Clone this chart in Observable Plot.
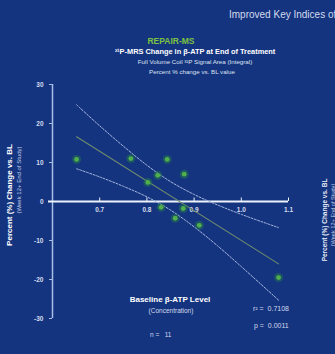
<!DOCTYPE html>
<html>
<head>
<meta charset="utf-8">
<script src="https://cdn.jsdelivr.net/npm/d3@7"></script>
<script src="https://cdn.jsdelivr.net/npm/@observablehq/plot@0.6"></script>
<style>
  html, body { margin: 0; padding: 0; background: #15347f; }
  #wrap { position: relative; width: 335px; height: 354px; overflow: hidden; background: #15347f;
          font-family: "Liberation Sans", Arial, sans-serif; }
  #wrap svg { position: absolute; left: 0; top: 0; }
  .t { position: absolute; white-space: nowrap; line-height: 1; }
  .c { transform: translateX(-50%); }
  .rot { transform: translate(-50%, -50%) rotate(-90deg); }
</style>
</head>
<body>
<div id="wrap"></div>
<script>
// ---- data ----
const baselineATP = [0.651, 0.766, 0.802, 0.823, 0.843, 0.879, 0.830, 0.860, 0.877, 0.911, 1.079];
const pctChange   = [10.8, 11.0, 4.9, 6.7, 10.8, 7.0, -1.5, -4.3, -1.8, -6.1, -19.5];
const bandX       = [0.651, 0.70, 0.75, 0.80, 0.85, 0.90, 0.95, 1.00, 1.079];
const bandUpper   = [24.8, 19.4, 14.2, 9.3, 5.1, 1.8, -0.9, -3.3, -6.7];
const bandLower   = [8.4, 6.3, 3.9, 1.2, -2.2, -6.5, -11.4, -16.7, -25.3];
const xTicks      = [0.7, 0.8, 0.9, 1.0, 1.1];
const xTickLabels = ["0.7", "0.8", "0.9", "1.0", "1.1"];
const yTicks      = [30, 20, 10, 0, -10, -20, -30];

const pts = baselineATP.map((x, i) => ({x, y: pctChange[i]}));
const up = bandX.map((x, i) => ({x, y: bandUpper[i]}));
const lo = bandX.map((x, i) => ({x, y: bandLower[i]}));
const xt = xTicks.map((x, i) => ({x, label: xTickLabels[i]}));

const chart = Plot.plot({
  width: 335, height: 354,
  marginLeft: 52, marginRight: 47, marginTop: 84, marginBottom: 36,
  x: {domain: [0.6, 1.1], axis: null},
  y: {domain: [-30, 30]},
  style: {background: "transparent", color: "#d3dbee", fontFamily: "Liberation Sans, Arial, sans-serif"},
  marks: [
    Plot.ruleX([0.6], {y1: -30, y2: 30, stroke: "#a9bee6", strokeWidth: 1.5}),
    Plot.axisY({ticks: yTicks, tickSize: 3, tickPadding: 6, fontSize: 6.5, fontWeight: "bold",
                stroke: "#a9bee6", tickFormat: d => String(d), label: null}),
    Plot.ruleY([0], {stroke: "#eef3fb", strokeWidth: 2, insetLeft: -4}),
    Plot.ruleX(xt, {x: "x", y1: 0, y2: 0.9, stroke: "#eef3fb", strokeWidth: 1}),
    Plot.text(xt, {x: "x", y: 0, text: "label", dy: 8, fontSize: 6.5, fontWeight: "bold", fill: "#d3dbee"}),
    Plot.line(up, {x: "x", y: "y", curve: "catmull-rom", stroke: "#a6b8e0", strokeWidth: 1, strokeDasharray: "2,1.5"}),
    Plot.line(lo, {x: "x", y: "y", curve: "catmull-rom", stroke: "#a6b8e0", strokeWidth: 1, strokeDasharray: "2,1.5"}),
    Plot.linearRegressionY(pts, {x: "x", y: "y", ci: 0, stroke: "#6f8c6c", strokeWidth: 1.1}),
    Plot.dot(pts, {x: "x", y: "y", r: 4.5, fill: "#25804a", fillOpacity: 0.45}),
    Plot.dot(pts, {x: "x", y: "y", r: 2.4, fill: "#52b04c"})
  ]
});

const wrap = document.getElementById("wrap");
wrap.appendChild(chart);

function txt(html, css, cls) {
  const d = document.createElement("div");
  d.className = "t " + (cls || "");
  d.innerHTML = html;
  d.style.cssText += css;
  wrap.appendChild(d);
}
txt("Improved Key Indices of", "left:229px;top:10px;font-size:10px;color:#d3dbee;");
txt("REPAIR-MS", "left:171px;top:37px;font-size:8.5px;font-weight:bold;color:#7cc242;", "c");
txt("³¹P-MRS Change in β-ATP at End of Treatment", "left:195px;top:48px;font-size:7.4px;font-weight:bold;color:#ffffff;", "c");
txt("Full Volume Coil ³¹P Signal Area (Integral)", "left:195px;top:59px;font-size:6.2px;color:#dce3f2;", "c");
txt("Percent % change vs. BL value", "left:192px;top:69px;font-size:6.2px;color:#dce3f2;", "c");
txt("Percent (%) Change vs. BL", "left:10px;top:195px;font-size:8px;font-weight:bold;color:#ffffff;", "rot");
txt("(Week 12+ End of Study)", "left:19px;top:180px;font-size:6px;color:#c3cfe9;", "rot");
txt("Baseline β-ATP Level", "left:170px;top:296px;font-size:8px;font-weight:bold;color:#ffffff;", "c");
txt("(Concentration)", "left:171px;top:308px;font-size:6.5px;color:#d3dbee;", "c");
txt("n =&nbsp;&nbsp;&nbsp;11", "left:150px;top:332px;font-size:6.5px;color:#d3dbee;");
txt("r² =&nbsp;&nbsp;0.7108", "left:253px;top:305px;font-size:7px;color:#d3dbee;");
txt("p =&nbsp;&nbsp;0.0011", "left:254px;top:322px;font-size:7px;color:#d3dbee;");
txt("Percent (%) Change vs. BL", "left:325px;top:220px;font-size:6.5px;font-weight:bold;color:#e6ecf7;", "rot");
txt("(Week 12+ End of Study)", "left:334px;top:215px;font-size:5.6px;color:#c3cfe9;", "rot");
</script>
</body>
</html>
